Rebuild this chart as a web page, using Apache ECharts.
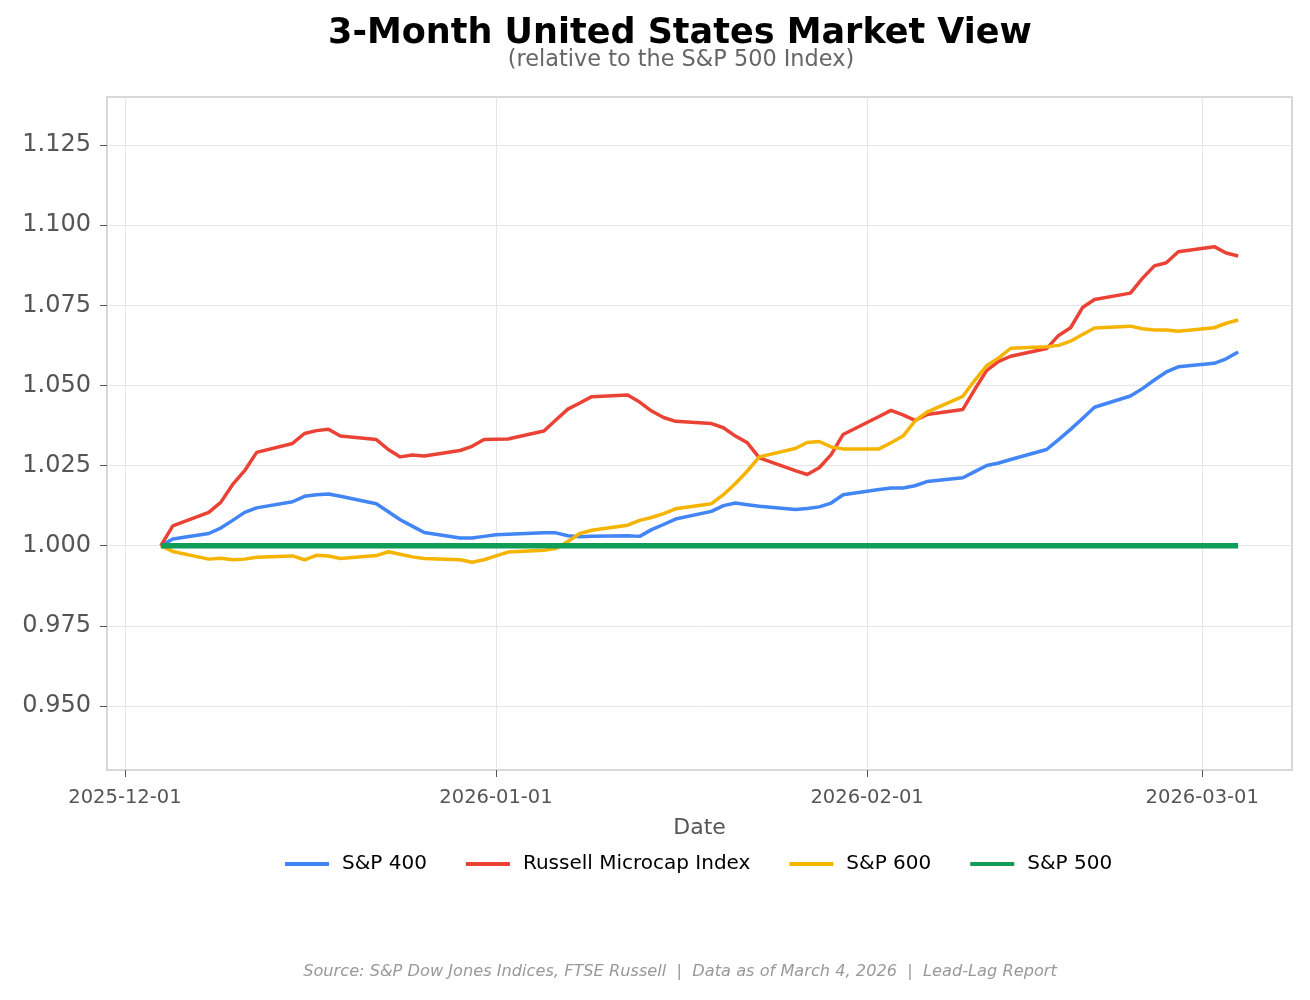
<!DOCTYPE html>
<html>
<head>
<meta charset="utf-8">
<script src="https://cdn.jsdelivr.net/npm/echarts@6/dist/echarts.min.js"></script>
<style>html,body{margin:0;padding:0;background:#fff;}#chart{width:1310px;height:1000px;}</style>
</head>
<body>
<div id="chart"></div>
<script>
const dates = [
'2025-12-04','2025-12-05',
'2025-12-08','2025-12-09','2025-12-10','2025-12-11','2025-12-12',
'2025-12-15','2025-12-16','2025-12-17','2025-12-18','2025-12-19',
'2025-12-22','2025-12-23','2025-12-24','2025-12-25','2025-12-26',
'2025-12-29','2025-12-30','2025-12-31','2026-01-01','2026-01-02',
'2026-01-05','2026-01-06','2026-01-07','2026-01-08','2026-01-09',
'2026-01-12','2026-01-13','2026-01-14','2026-01-15','2026-01-16',
'2026-01-19','2026-01-20','2026-01-21','2026-01-22','2026-01-23',
'2026-01-26','2026-01-27','2026-01-28','2026-01-29','2026-01-30',
'2026-02-02','2026-02-03','2026-02-04','2026-02-05','2026-02-06',
'2026-02-09','2026-02-10','2026-02-11','2026-02-12','2026-02-13',
'2026-02-16','2026-02-17','2026-02-18','2026-02-19','2026-02-20',
'2026-02-23','2026-02-24','2026-02-25','2026-02-26','2026-02-27',
'2026-03-02','2026-03-03','2026-03-04'];

const sp400 = [
1.0000, 1.0021,
1.0038, 1.0055, 1.0079, 1.0104, 1.0118,
1.0137, 1.0154, 1.0159, 1.0161, 1.0154,
1.0131, 1.0106, 1.0081, 1.0061, 1.0041,
1.0024, 1.0024, 1.0029, 1.0034, 1.0036,
1.0040, 1.0040, 1.0031, 1.0028, 1.0029,
1.0031, 1.0029, 1.0050, 1.0066, 1.0083,
1.0107, 1.0125, 1.0133, 1.0128, 1.0123,
1.0113, 1.0116, 1.0121, 1.0133, 1.0159,
1.0175, 1.0180, 1.0180, 1.0187, 1.0200,
1.0212, 1.0231, 1.0250, 1.0258, 1.0269,
1.0300, 1.0331, 1.0363, 1.0397, 1.0432,
1.0467, 1.0490, 1.0517, 1.0542, 1.0558,
1.0569, 1.0583, 1.0604];

const russellMicro = [
1.0000, 1.0062,
1.0104, 1.0135, 1.0191, 1.0234, 1.0291,
1.0319, 1.0350, 1.0359, 1.0363, 1.0342,
1.0331, 1.0300, 1.0277, 1.0283, 1.0280,
1.0297, 1.0310, 1.0331, 1.0332, 1.0333,
1.0358, 1.0392, 1.0426, 1.0445, 1.0465,
1.0470, 1.0448, 1.0420, 1.0400, 1.0388,
1.0381, 1.0368, 1.0342, 1.0321, 1.0274,
1.0234, 1.0222, 1.0243, 1.0284, 1.0347,
1.0403, 1.0422, 1.0408, 1.0391, 1.0409,
1.0425, 1.0488, 1.0547, 1.0575, 1.0591,
1.0615, 1.0656, 1.0680, 1.0743, 1.0768,
1.0788, 1.0834, 1.0873, 1.0883, 1.0917,
1.0933, 1.0913, 1.0904];

const sp600 = [
1.0000, 0.9982,
0.9958, 0.9961, 0.9956, 0.9958, 0.9964,
0.9968, 0.9956, 0.9970, 0.9968, 0.9960,
0.9969, 0.9981, 0.9973, 0.9965, 0.9960,
0.9956, 0.9948, 0.9956, 0.9968, 0.9980,
0.9986, 0.9991, 1.0013, 1.0038, 1.0048,
1.0064, 1.0079, 1.0088, 1.0100, 1.0115,
1.0131, 1.0159, 1.0194, 1.0233, 1.0277,
1.0303, 1.0322, 1.0325, 1.0308, 1.0302,
1.0302, 1.0321, 1.0342, 1.0389, 1.0417,
1.0466, 1.0516, 1.0562, 1.0586, 1.0616,
1.0621, 1.0625, 1.0638, 1.0659, 1.0679,
1.0685, 1.0677, 1.0673, 1.0673, 1.0669,
1.0680, 1.0694, 1.0704];

const sp500 = dates.map(() => 1.0);

const yTicks = [0.950, 0.975, 1.000, 1.025, 1.050, 1.075, 1.100, 1.125];
const xTicks = ['2025-12-01', '2026-01-01', '2026-02-01', '2026-03-01'];
const xMin = '2025-11-29T12:00:00Z';
const xMax = '2026-03-08T12:00:00Z';
const yMin = 0.93, yMax = 1.14;

const seriesNames = ['S&P 400', 'Russell Microcap Index', 'S&P 600', 'S&P 500'];
const seriesColors = ['#4285F4', '#EA4335', '#F4B400', '#0F9D58'];
const seriesValues = [sp400, russellMicro, sp600, sp500];

const ts = s => new Date(s).getTime();
const pad = n => (n < 10 ? '0' : '') + n;
const fmtDate = v => { const d = new Date(v); return d.getUTCFullYear() + '-' + pad(d.getUTCMonth() + 1) + '-' + pad(d.getUTCDate()); };
const FONT = '"DejaVu Sans", sans-serif';

const chart = echarts.init(document.getElementById('chart'), null, {renderer: 'canvas'});
chart.setOption({
  animation: false,
  backgroundColor: '#ffffff',
  graphic: [
    {type: 'text', x: 680, y: 34, style: {text: '3-Month United States Market View', textAlign: 'center', textVerticalAlign: 'middle', fontFamily: FONT, fontSize: 35, fontWeight: 'bold', fill: '#000'}},
    {type: 'text', x: 681, y: 60, style: {text: '(relative to the S&P 500 Index)', textAlign: 'center', textVerticalAlign: 'middle', fontFamily: FONT, fontSize: 22.4, fill: '#666'}},
    {type: 'text', x: 680, y: 972, style: {text: 'Source: S&P Dow Jones Indices, FTSE Russell  |  Data as of March 4, 2026  |  Lead-Lag Report', textAlign: 'center', textVerticalAlign: 'middle', fontFamily: FONT, fontSize: 16.2, fontStyle: 'italic', fill: '#999'}}
  ],
  legend: {
    left: 285, top: 854, padding: 0,
    itemWidth: 44, itemHeight: 4, itemGap: 39,
    icon: 'rect',
    textStyle: {fontFamily: FONT, fontSize: 20, color: '#000', padding: [0, 0, 0, 8]},
    data: seriesNames.map((n, i) => ({name: n, icon: 'rect', itemStyle: {color: seriesColors[i]}}))
  },
  grid: {left: 107, right: 18, top: 97, bottom: 230, show: true, borderColor: '#cccccc', borderWidth: 1.5, backgroundColor: '#fff'},
  xAxis: {
    type: 'value',
    min: ts(xMin), max: ts(xMax),
    name: 'Date', nameLocation: 'middle', nameGap: 47,
    nameTextStyle: {fontFamily: FONT, fontSize: 22, color: '#555'},
    axisLine: {show: false},
    axisTick: {show: true, inside: false, length: 7, lineStyle: {color: '#555', width: 1}, customValues: xTicks.map(ts)},
    axisLabel: {fontFamily: FONT, fontSize: 19.5, color: '#555', margin: 18, customValues: xTicks.map(ts), formatter: v => fmtDate(v), hideOverlap: false},
    splitLine: {show: true, lineStyle: {color: '#e6e6e6', width: 1}}
  },
  yAxis: {
    type: 'value',
    min: yMin, max: yMax,
    axisLine: {show: false},
    axisTick: {show: true, inside: false, length: 7, lineStyle: {color: '#555', width: 1}, customValues: yTicks},
    axisLabel: {fontFamily: FONT, fontSize: 24, color: '#555', margin: 16, customValues: yTicks, formatter: v => v.toFixed(3)},
    splitLine: {show: true, lineStyle: {color: '#e6e6e6', width: 1}}
  },
  series: seriesNames.map((n, i) => ({
    name: n,
    type: 'line',
    showSymbol: false,
    symbol: 'none',
    color: seriesColors[i],
    lineStyle: {color: seriesColors[i], width: i === 3 ? 5.5 : 3.5},
    z: 2 + i,
    data: dates.map((d, k) => [ts(d), seriesValues[i][k]])
  }))
});
</script>
</body>
</html>
